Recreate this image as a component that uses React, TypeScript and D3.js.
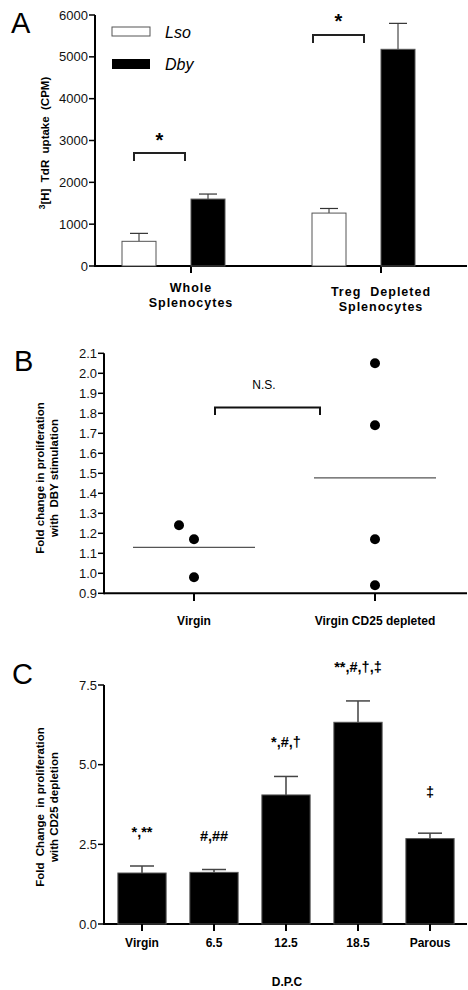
import React from "react";
import * as d3 from "d3";

// Panel A
const groupsA = ["Whole|Splenocytes", "Treg  Depleted|Splenocytes"];
const lsoA = [590, 1265];
const lsoErrA = [780, 1375];
const dbyA = [1600, 5180];
const dbyErrA = [1720, 5800];
const ticksA = [0, 1000, 2000, 3000, 4000, 5000, 6000];

// Panel B
const groupsB = ["Virgin", "Virgin CD25 depleted"];
const pointsB = [
  { g: 0, v: 1.24, dx: -15 },
  { g: 0, v: 1.17, dx: 0 },
  { g: 0, v: 0.98, dx: 0 },
  { g: 1, v: 2.05, dx: 0 },
  { g: 1, v: 1.74, dx: 0 },
  { g: 1, v: 1.17, dx: 0 },
  { g: 1, v: 0.94, dx: 0 },
];
const meanB = [1.13, 1.477];
const ticksB = [0.9, 1.0, 1.1, 1.2, 1.3, 1.4, 1.5, 1.6, 1.7, 1.8, 1.9, 2.0, 2.1];

// Panel C
const groupsC = ["Virgin", "6.5", "12.5", "18.5", "Parous"];
const valuesC = [1.6, 1.62, 4.05, 6.33, 2.68];
const errC = [1.82, 1.71, 4.63, 7.0, 2.85];
const notesC = ["*,**", "#,##", "*,#,\u2020", "**,#,\u2020,\u2021", "\u2021"];
const ticksC = [0, 2.5, 5, 7.5];

const FONT = "'Liberation Sans', Arial, sans-serif";

const YAxis = ({ x, scale, ticks, fmt }: any) => (
  <g>
    <line x1={x} x2={x} y1={scale(ticks[0]) + 1} y2={scale(ticks[ticks.length - 1])} stroke="#000" strokeWidth={2} />
    {ticks.map((t: number) => (
      <g key={t}>
        <line x1={x - 6} x2={x} y1={scale(t)} y2={scale(t)} stroke="#000" strokeWidth={1.5} />
        <text x={x - 7} y={scale(t) + 4.5} textAnchor="end" fontSize={13} fill="#111">
          {fmt(t)}
        </text>
      </g>
    ))}
  </g>
);

export default function App() {
  // A scales
  const yA = d3.scaleLinear().domain([0, 6000]).range([266, 15]);
  const xA = d3.scaleBand().domain(groupsA).range([96, 476]).paddingInner(0).paddingOuter(0);
  const axA = 95;

  // B scales
  const yB = d3.scaleLinear().domain([0.9, 2.1]).range([593.3, 353.3]);
  const xB = d3.scalePoint().domain(groupsB).range([194, 375]);
  const axB = 104;

  // C scales
  const yC = d3.scaleLinear().domain([0, 7.5]).range([924, 685]);
  const xC = d3.scaleBand().domain(groupsC).range([106, 466]).paddingInner(0.33).paddingOuter(0.165);
  const axC = 104;

  const barW = 34;

  return (
    <svg width={468} height={990} style={{ position: "absolute", left: 0, top: 0 }} fontFamily={FONT}>
      <rect width={468} height={990} fill="#fff" />

      {/* ---------- A ---------- */}
      <text x={11} y={33} fontSize={29} fill="#000">A</text>
      <YAxis x={axA} scale={yA} ticks={ticksA} fmt={(t: number) => String(t)} />
      <line x1={axA} x2={467} y1={266} y2={266} stroke="#000" strokeWidth={2} />
      {groupsA.map((g, i) => {
        const cx = xA(g)! + xA.bandwidth() / 2;
        const x0 = cx - 69;
        const x1 = cx - 17;
        const [l1, l2] = g.split("|");
        return (
          <g key={g}>
            <line x1={cx} x2={cx} y1={266} y2={273} stroke="#000" strokeWidth={2} />
            {/* Lso */}
            <line x1={x0 + barW / 2} x2={x0 + barW / 2} y1={yA(lsoA[i])} y2={yA(lsoErrA[i])} stroke="#222" />
            <line x1={x0 + barW / 2 - 9} x2={x0 + barW / 2 + 9} y1={yA(lsoErrA[i])} y2={yA(lsoErrA[i])} stroke="#333" strokeWidth={1.2} />
            <rect x={x0} y={yA(lsoA[i])} width={barW} height={266 - yA(lsoA[i])} fill="#fff" stroke="#555" strokeWidth={1} />
            {/* Dby */}
            <line x1={x1 + 17 + barW / 2} x2={x1 + 17 + barW / 2} y1={yA(dbyA[i])} y2={yA(dbyErrA[i])} stroke="#222" />
            <line x1={x1 + 17 + barW / 2 - 9} x2={x1 + 17 + barW / 2 + 9} y1={yA(dbyErrA[i])} y2={yA(dbyErrA[i])} stroke="#333" strokeWidth={1.2} />
            <rect x={x1 + 17} y={yA(dbyA[i])} width={barW} height={266 - yA(dbyA[i])} fill="#000" stroke="#555" strokeWidth={1} />
            <text x={cx} y={i === 0 ? 292 : 296} textAnchor="middle" fontSize={12.5} fontWeight="bold" letterSpacing={1} style={{ whiteSpace: "pre" }}>{l1}</text>
            <text x={cx} y={i === 0 ? 307 : 311} textAnchor="middle" fontSize={12.5} fontWeight="bold" letterSpacing={1}>{l2}</text>
          </g>
        );
      })}
      {/* significance brackets A */}
      {[
        { x0: 134, x1: 185, y: yA(2700), sy: 147 },
        { x0: 313, x1: 364, y: 35, sy: 28 },
      ].map((b, i) => (
        <g key={i}>
          <path d={`M${b.x0},${b.y + 8}V${b.y}H${b.x1}V${b.y + 8}`} fill="none" stroke="#222" strokeWidth={2} />
          <text x={(b.x0 + b.x1) / 2} y={b.sy} textAnchor="middle" fontSize={20} fontWeight="bold">*</text>
        </g>
      ))}
      {/* legend */}
      <rect x={112} y={27} width={38} height={9} fill="#fff" stroke="#555" />
      <text x={165} y={38} fontSize={16} fontStyle="italic">Lso</text>
      <rect x={112} y={59} width={38} height={10} fill="#000" />
      <text x={165} y={70} fontSize={16} fontStyle="italic">Dby</text>
      <text transform="translate(49,143) rotate(-90)" textAnchor="middle" fontSize={11.5} fontWeight="bold" style={{ whiteSpace: "pre" }}>
        <tspan fontSize={8.5} dy={-4}>3</tspan>
        <tspan dy={4}>[H]  TdR  uptake  (CPM)</tspan>
      </text>

      {/* ---------- B ---------- */}
      <text x={14} y={371} fontSize={29} fill="#000">B</text>
      <YAxis x={axB} scale={yB} ticks={ticksB} fmt={(t: number) => t.toFixed(1)} />
      <line x1={axB} x2={467} y1={593.3} y2={593.3} stroke="#000" strokeWidth={2} />
      {groupsB.map((g) => (
        <g key={g}>
          <line x1={xB(g)} x2={xB(g)} y1={593} y2={601} stroke="#000" strokeWidth={2} />
          <text x={xB(g)} y={625} textAnchor="middle" fontSize={12} fontWeight="bold">{g}</text>
        </g>
      ))}
      {meanB.map((m, i) => (
        <line key={i} x1={xB(groupsB[i])! - 61} x2={xB(groupsB[i])! + 61} y1={yB(m)} y2={yB(m)} stroke="#555" strokeWidth={1.2} />
      ))}
      {pointsB.map((p, i) => (
        <circle key={i} cx={xB(groupsB[p.g])! + p.dx} cy={yB(p.v)} r={5} fill="#000" />
      ))}
      <path d={`M215,415V407.5H320V415`} fill="none" stroke="#111" strokeWidth={2} />
      <text x={264} y={389} textAnchor="middle" fontSize={12}>N.S.</text>
      <text transform="translate(44,478) rotate(-90)" textAnchor="middle" fontSize={11.5} fontWeight="bold">Fold change in proliferation</text>
      <text transform="translate(58,478) rotate(-90)" textAnchor="middle" fontSize={11.5} fontWeight="bold" style={{ whiteSpace: "pre" }}>with  DBY stimulation</text>

      {/* ---------- C ---------- */}
      <text x={12} y={684} fontSize={29} fill="#000">C</text>
      <YAxis x={axC} scale={yC} ticks={ticksC} fmt={(t: number) => t.toFixed(1)} />
      <line x1={axC} x2={467} y1={924} y2={924} stroke="#000" strokeWidth={2} />
      {groupsC.map((g, i) => {
        const x = xC(g)!;
        const w = xC.bandwidth();
        const cx = x + w / 2;
        return (
          <g key={g}>
            <line x1={cx} x2={cx} y1={yC(valuesC[i])} y2={yC(errC[i])} stroke="#111" strokeWidth={1.2} />
            <line x1={cx - 12} x2={cx + 12} y1={yC(errC[i])} y2={yC(errC[i])} stroke="#444" strokeWidth={1.5} />
            <rect x={x} y={yC(valuesC[i])} width={w} height={924 - yC(valuesC[i])} fill="#000" stroke="#555" strokeWidth={1} />
            <line x1={cx} x2={cx} y1={924} y2={931} stroke="#000" strokeWidth={2} />
            <text x={cx} y={947} textAnchor="middle" fontSize={12} fontWeight="bold">{g}</text>
            <text x={cx} y={yC(errC[i]) - (i === 4 ? 36 : 29)} textAnchor="middle" fontSize={14.5} fontWeight="bold">{notesC[i]}</text>
          </g>
        );
      })}
      <text x={287} y={986} textAnchor="middle" fontSize={12} fontWeight="bold">D.P.C</text>
      <text transform="translate(44,807) rotate(-90)" textAnchor="middle" fontSize={11.5} fontWeight="bold" style={{ whiteSpace: "pre" }}>Fold  Change  in proliferation</text>
      <text transform="translate(58,807) rotate(-90)" textAnchor="middle" fontSize={11.5} fontWeight="bold">with CD25 depletion</text>
    </svg>
  );
}
